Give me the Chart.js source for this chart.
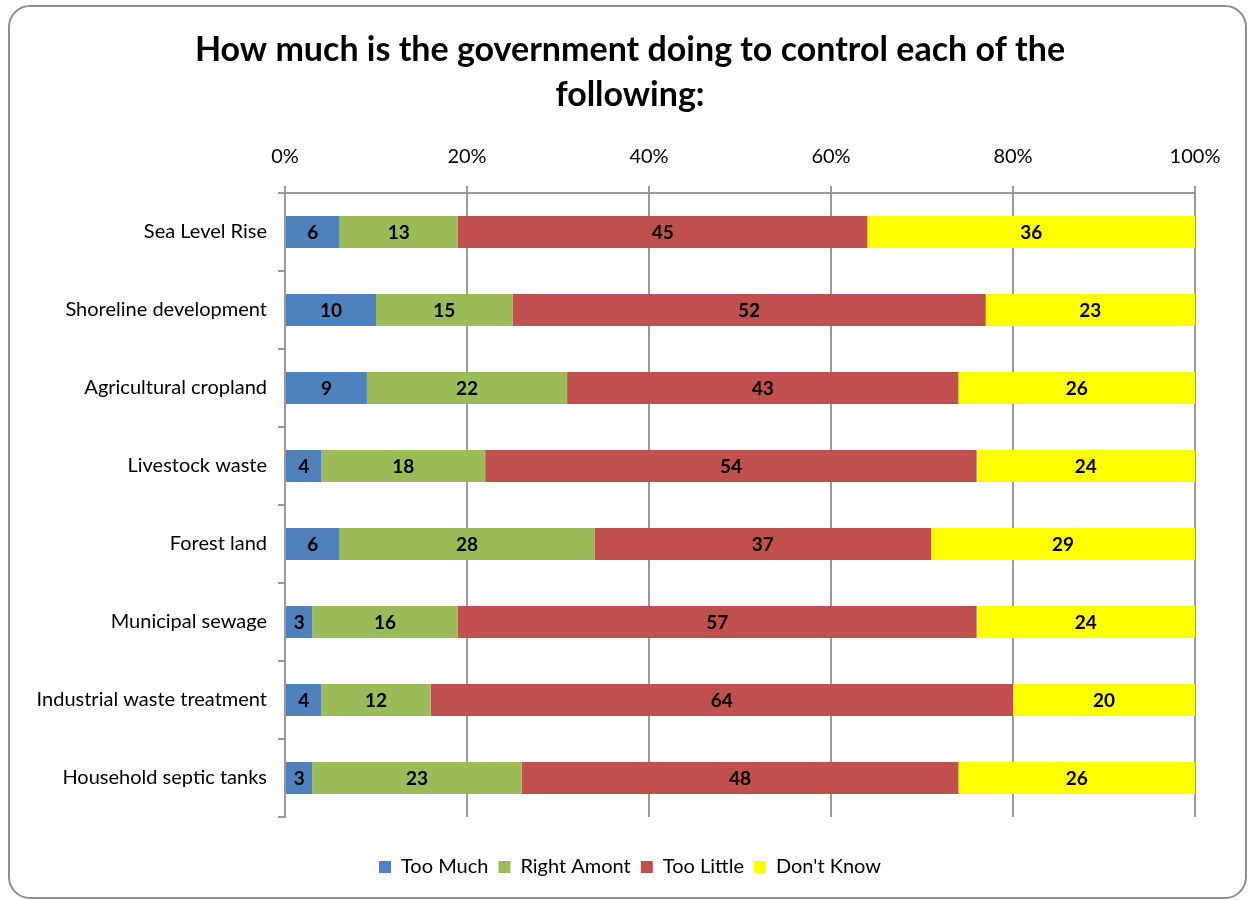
<!DOCTYPE html>
<html>
<head>
<meta charset="utf-8">
<script src="https://cdn.jsdelivr.net/npm/chart.js@4/dist/chart.umd.min.js"></script>
<style>
  html, body { margin: 0; padding: 0; background: #ffffff; }
  #wrap { position: relative; width: 1249px; height: 900px; overflow: hidden; }
  #frame {
    position: absolute; left: 8px; top: 5px; width: 1239px; height: 894px;
    box-sizing: border-box; border: 2px solid #8e8e8e; border-radius: 22px;
    pointer-events: none;
  }
  #chart { position: absolute; left: 0; top: 0; }
</style>
</head>
<body>
<div id="wrap">
  <canvas id="chart" width="1249" height="900"></canvas>
  <div id="frame"></div>
</div>
<script>
// Survey items, listed top to bottom
const categories = [
  'Sea Level Rise',
  'Shoreline development',
  'Agricultural cropland',
  'Livestock waste',
  'Forest land',
  'Municipal sewage',
  'Industrial waste treatment',
  'Household septic tanks'
];

// Percent of respondents per answer
const tooMuch     = [6, 10, 9, 4, 6, 3, 4, 3];
const rightAmount = [13, 15, 22, 18, 28, 16, 12, 23];
const tooLittle   = [45, 52, 43, 54, 37, 57, 64, 48];
const dontKnow    = [36, 23, 26, 24, 29, 24, 20, 26];

const seriesNames = ['Too Much', 'Right Amont', 'Too Little', "Don't Know"];
const seriesColors = ['#4f81bd', '#9bbb59', '#c0504d', '#ffff00'];

const axisTicks = [0, 20, 40, 60, 80, 100];

const FONT = 'Lato, "Open Sans", sans-serif';

// Writes each segment's value in the middle of its bar
const barValueLabels = {
  id: 'barValueLabels',
  afterDatasetsDraw(chart) {
    const ctx = chart.ctx;
    ctx.save();
    ctx.font = 'bold 19px ' + FONT;
    ctx.fillStyle = '#000000';
    ctx.textAlign = 'center';
    ctx.textBaseline = 'middle';
    chart.data.datasets.forEach((ds, di) => {
      const meta = chart.getDatasetMeta(di);
      meta.data.forEach((bar, i) => {
        const p = bar.getCenterPoint();
        ctx.fillText(String(ds.data[i]), p.x, p.y + 1);
      });
    });
    ctx.restore();
  }
};

const data = {
  labels: categories,
  datasets: [tooMuch, rightAmount, tooLittle, dontKnow].map((vals, k) => ({
    label: seriesNames[k],
    data: vals,
    backgroundColor: seriesColors[k],
    borderWidth: 0,
    categoryPercentage: 1.0,
    barPercentage: 0.41
  }))
};

new Chart(document.getElementById('chart'), {
  type: 'bar',
  data: data,
  plugins: [barValueLabels],
  options: {
    indexAxis: 'y',
    responsive: false,
    animation: false,
    devicePixelRatio: 1,
    layout: { padding: { left: 11, right: 0, top: 0, bottom: 13 } },
    scales: {
      x: {
        position: 'top',
        stacked: true,
        min: 0,
        max: 100,
        afterBuildTicks(scale) {
          scale.ticks = axisTicks.map(v => ({ value: v }));
        },
        afterFit(scale) { scale.height = 75.5; },
        ticks: {
          callback: v => v + '%',
          color: '#000000',
          font: { family: FONT, size: 20 },
          padding: 17
        },
        grid: {
          color: '#9a9a9a',
          lineWidth: 2,
          tickLength: 7,
          drawTicks: true
        },
        border: { display: true, color: '#9a9a9a', width: 2 }
      },
      y: {
        stacked: true,
        afterFit(scale) { scale.width = 274; },
        ticks: {
          color: '#000000',
          font: { family: FONT, size: 20 },
          padding: 11
        },
        grid: {
          drawOnChartArea: false,
          drawTicks: true,
          tickLength: 7,
          color: '#9a9a9a',
          lineWidth: 2,
          offset: true
        },
        border: { display: true, color: '#9a9a9a', width: 2 }
      },
      // empty margin on the right side of the plot
      rightMargin: {
        type: 'category',
        position: 'right',
        labels: categories,
        afterFit(scale) { scale.width = 54; },
        ticks: { display: false },
        grid: { display: false },
        border: { display: false }
      }
    },
    plugins: {
      title: {
        display: true,
        text: ['How much is the government doing to control each of the', 'following:'],
        color: '#000000',
        font: { family: FONT, size: 34, weight: 'bold', lineHeight: 1.324 },
        padding: { top: 27.5, bottom: 0 }
      },
      legend: {
        display: true,
        position: 'bottom',
        title: {
          display: true,
          text: ' ',
          font: { size: 10, lineHeight: 1.2 },
          padding: { top: 18, bottom: 0 }
        },
        labels: {
          color: '#000000',
          font: { family: FONT, size: 20 },
          boxWidth: 12,
          boxHeight: 12,
          padding: 10
        }
      },
      tooltip: { enabled: false }
    }
  }
});
</script>
</body>
</html>
